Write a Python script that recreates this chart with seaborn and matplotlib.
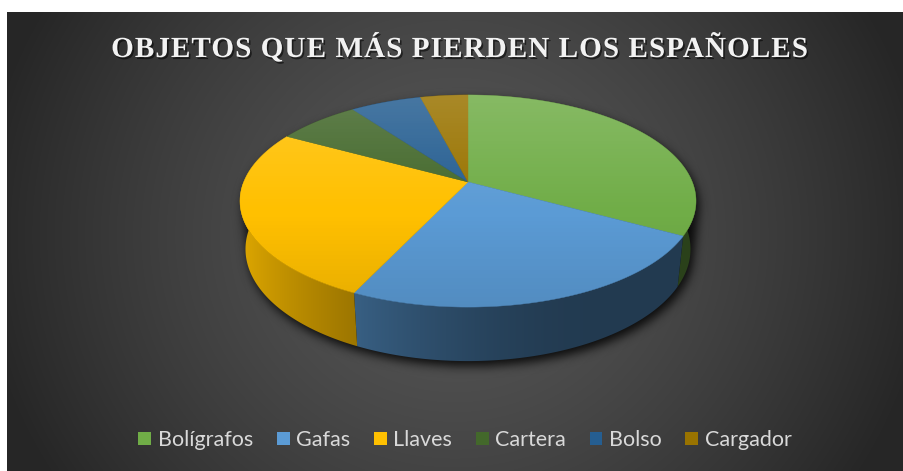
import numpy as np
import seaborn as sns
import matplotlib
matplotlib.use("Agg")
import matplotlib.pyplot as plt
from matplotlib.patches import Polygon, Patch
from matplotlib.path import Path
from matplotlib.font_manager import FontProperties
from matplotlib.colors import to_rgb
import matplotlib.patheffects as pe

# ---- data -------------------------------------------------------------
categories = ["Bolígrafos", "Gafas", "Llaves", "Cartera", "Bolso", "Cargador"]
values = [33, 24, 26, 7, 6, 4]
colors = ["#70AD47", "#5B9BD5", "#FFC000", "#43682B", "#255E91", "#997300"]
title = "OBJETOS QUE MÁS PIERDEN LOS ESPAÑOLES"

# ---- canvas ------------------------------------------------------------
W, H = 904, 471
sns.set_theme(style="white")
palette = sns.color_palette(colors)
fig = plt.figure(figsize=(W / 100, H / 100), dpi=100, facecolor="white")
ax = fig.add_axes([0, 0, 1, 1])


def reset_limits():
    ax.set_xlim(0, W)
    ax.set_ylim(H, 0)
    ax.set_aspect("auto")
    ax.axis("off")


reset_limits()

# dark radial-gradient chart area
X0, Y0 = 7, 12
yy, xx = np.mgrid[Y0:H, X0:W] + 0.5
r = np.clip(np.hypot(xx - 455, (yy - 235) * 1.05) / 480, 0, 1)
c_in, c_out = 0x57 / 255, 0x26 / 255
shade = c_out + (c_in - c_out) * (1 - r ** 1.4)
ax.imshow(np.dstack([shade] * 3), extent=(X0, W, H, Y0), zorder=0,
          interpolation="bilinear")
reset_limits()

# ---- 3-D pie geometry (perspective view of a flat cylinder) -----------
CX, CY = 468.0, 182.0
ELEV = np.radians(28)
DIST = 4.93
FX, FY = 1106.0, 1078.0
DEPTH = 0.252


def project(theta, z=0.0):
    X, Y = np.cos(theta), np.sin(theta)
    v = Y * np.sin(ELEV) + z * np.cos(ELEV)
    w = Y * np.cos(ELEV) - z * np.sin(ELEV) + DIST
    return CX + FX * X / w, CY - FY * v / w


fractions = np.asarray(values, float) / np.sum(values)
bounds = np.radians(90 - 360 * np.concatenate([[0], np.cumsum(fractions)]))

# soft drop shadow under the cylinder
full = np.linspace(0, 2 * np.pi, 720)
tx, ty = project(full, 0.0)
bx, by = project(full, -DEPTH)
pts = np.column_stack([np.r_[tx, bx], np.r_[ty, by]])


def convex_hull(p):
    p = sorted(map(tuple, p))
    def half(seq):
        out = []
        for q in seq:
            while len(out) >= 2 and ((out[-1][0] - out[-2][0]) * (q[1] - out[-2][1])
                                     - (out[-1][1] - out[-2][1]) * (q[0] - out[-2][0])) <= 0:
                out.pop()
            out.append(q)
        return out
    lo, hi = half(p), half(p[::-1])
    return np.array(lo[:-1] + hi[:-1])


hull = convex_hull(pts)
gy, gx = np.mgrid[0:H, 0:W] + 0.5
mask = Path(hull + [3, 5]).contains_points(
    np.column_stack([gx.ravel(), gy.ravel()])).reshape(H, W).astype(float)


def blur(a, sigma):
    k = np.arange(-3 * sigma, 3 * sigma + 1)
    k = np.exp(-0.5 * (k / sigma) ** 2)
    k /= k.sum()
    a = np.apply_along_axis(lambda m: np.convolve(m, k, mode="same"), 0, a)
    return np.apply_along_axis(lambda m: np.convolve(m, k, mode="same"), 1, a)


shadow = blur(mask, 5)
rgba = np.zeros((H, W, 4))
rgba[..., 3] = 0.85 * shadow
ax.imshow(rgba, extent=(0, W, H, 0), zorder=1, interpolation="bilinear")
reset_limits()


# ---- outer wall: horizontal light-to-dark shading, light from the left --
def wall_factor(theta):
    u = (theta - np.pi) / np.pi            # 0 = left edge, 1 = right edge
    s = np.clip((u - 0.05) / 0.6, 0, 1)
    s = s * s * (3 - 2 * s)
    return 0.38 + 0.5 * (1 - s)


# column -> angle lookup along the front rim (monotonic part of the rim)
edge = np.arcsin(np.cos(ELEV) / DIST)
th_lut = np.linspace(np.pi + edge, 2 * np.pi - edge, 2000)
x_lut, _ = project(th_lut, 0.0)
col_theta = np.interp(np.arange(W) + 0.5, x_lut, th_lut)
col_factor = wall_factor(col_theta)

for k in range(len(values)):
    t_hi, t_lo = bounds[k], bounds[k + 1]
    for shift in (0.0, -2 * np.pi, 2 * np.pi):
        a = max(t_lo + shift, np.pi)
        b = min(t_hi + shift, 2 * np.pi)
        if b <= a:
            continue
        th = np.linspace(a, b, 300)
        x1, y1 = project(th, 0.0)
        x2, y2 = project(th[::-1], -DEPTH)
        wall = Polygon(np.column_stack([np.r_[x1, x2], np.r_[y1, y2]]),
                       closed=True, transform=ax.transData)
        base = np.array(to_rgb(palette[k]))
        img = np.clip(base[None, None, :] * col_factor[None, :, None], 0, 1)
        img = np.repeat(img, 2, axis=0)
        wim = ax.imshow(img, extent=(0, W, H, 0), zorder=2, interpolation="bilinear")
        wim.set_clip_path(wall)
reset_limits()

# top face wedges
for k in range(len(values)):
    th = np.linspace(bounds[k], bounds[k + 1], 200)
    x, y = project(th, 0.0)
    poly = np.column_stack([np.r_[CX, x], np.r_[CY, y]])
    ax.add_patch(Polygon(poly, closed=True, facecolor=palette[k],
                         edgecolor=palette[k], linewidth=0.3, zorder=3))

# soft sheen over the top face: lighter at the back, slightly darker in front
top_path = Polygon(np.column_stack([tx, ty]), closed=True, transform=ax.transData)
sheen = np.zeros((H, W, 4))
gyn = (gy - 95) / (310 - 95)
white = np.clip(1 - gyn / 0.55, 0, 1) * 0.16
dark = np.clip((gyn - 0.55) / 0.45, 0, 1) * 0.10
sheen[..., :3] = (white / np.maximum(white + dark, 1e-6))[..., None]
sheen[..., 3] = white + dark
im = ax.imshow(sheen, extent=(0, W, H, 0), zorder=4, interpolation="bilinear")
im.set_clip_path(top_path)
reset_limits()

# ---- title with letter spacing ----------------------------------------
fp = FontProperties(family="Liberation Serif", weight="bold", size=21)
renderer = fig.canvas.get_renderer()


def text_w(s):
    return renderer.get_text_width_height_descent(s, fp, ismath=False)[0] if s else 0.0


spacing = 1.1
total = text_w(title) + spacing * (len(title) - 1)
x_start = 459.5 - total / 2
shadow_fx = [pe.withSimplePatchShadow(offset=(1.2, -1.5), shadow_rgbFace="black", alpha=0.55)]
for i, ch in enumerate(title):
    if ch == " ":
        continue
    xi = x_start + text_w(title[:i + 1]) - text_w(ch) + spacing * i
    ax.text(xi, 57, ch, fontproperties=fp, color="#f2f2f2", ha="left",
            va="baseline", zorder=6, path_effects=shadow_fx)

# ---- legend ------------------------------------------------------------
handles = [Patch(facecolor=c, edgecolor="none", label=l)
           for c, l in zip(palette, categories)]
ax.legend(handles=handles, loc="center", bbox_to_anchor=(465 / W, 1 - 440 / H),
          ncol=len(categories), frameon=False,
          prop=FontProperties(family="Lato", size=15.5), labelcolor="#d9d9d9",
          handlelength=0.6, handleheight=0.6, handletextpad=0.3,
          columnspacing=1.1, borderaxespad=0, borderpad=0)

fig.savefig("out.png", dpi=100, facecolor="white")
